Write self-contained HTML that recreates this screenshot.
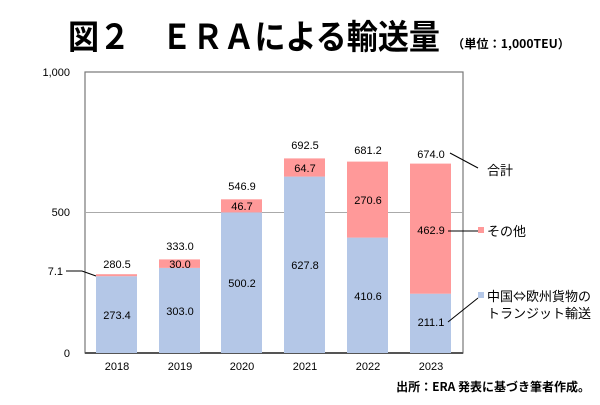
<!DOCTYPE html>
<html><head><meta charset="utf-8"><style>
body{margin:0;background:#fff;width:600px;height:400px;overflow:hidden}
</style></head><body>
<svg width="600" height="400" xmlns="http://www.w3.org/2000/svg" font-family="'Liberation Sans','Noto Sans CJK JP',sans-serif">
<text x="68" y="49" font-size="34" font-weight="bold" textLength="372" lengthAdjust="spacingAndGlyphs" font-family="'Noto Sans CJK JP',sans-serif">図２　ＥＲＡによる輸送量</text>
<text x="452" y="48" font-size="12" font-weight="bold" textLength="118" lengthAdjust="spacingAndGlyphs" font-family="'Noto Sans CJK JP',sans-serif">（単位：1,000TEU）</text>
<rect x="85" y="72" width="378" height="281" fill="none" stroke="#777" stroke-width="1.2"/>
<line x1="85" y1="212.5" x2="463" y2="212.5" stroke="#aaa" stroke-width="1"/>
<line x1="85" y1="353" x2="463" y2="353" stroke="#555" stroke-width="2"/>
<g font-size="11" fill="#000">
<text x="70" y="76" text-anchor="end">1,000</text>
<text x="70" y="216" text-anchor="end">500</text>
<text x="70" y="357" text-anchor="end">0</text>
<text x="63" y="275" text-anchor="end">7.1</text>
</g>
<polyline points="66,271 82,271 96,276" fill="none" stroke="#000" stroke-width="1"/>
<g>
<rect x="96" y="276.2" width="41" height="76.8" fill="#b4c7e7"/><rect x="96" y="274.2" width="41" height="2" fill="#ff9999"/>
<rect x="159" y="267.9" width="41" height="85.1" fill="#b4c7e7"/><rect x="159" y="259.4" width="41" height="8.5" fill="#ff9999"/>
<rect x="221" y="212.4" width="41" height="140.6" fill="#b4c7e7"/><rect x="221" y="199.3" width="41" height="13.1" fill="#ff9999"/>
<rect x="284" y="176.6" width="41" height="176.4" fill="#b4c7e7"/><rect x="284" y="158.4" width="41" height="18.2" fill="#ff9999"/>
<rect x="347" y="237.6" width="41" height="115.4" fill="#b4c7e7"/><rect x="347" y="161.6" width="41" height="76" fill="#ff9999"/>
<rect x="410" y="293.7" width="41" height="59.3" fill="#b4c7e7"/><rect x="410" y="163.6" width="41" height="130.1" fill="#ff9999"/>
</g>
<g font-size="11" text-anchor="middle" fill="#000">
<text x="117" y="268">280.5</text><text x="117" y="319">273.4</text><text x="117" y="370">2018</text>
<text x="180" y="250">333.0</text><text x="180" y="268">30.0</text><text x="180" y="315">303.0</text><text x="180" y="370">2019</text>
<text x="242" y="190">546.9</text><text x="242" y="210">46.7</text><text x="242" y="287">500.2</text><text x="242" y="370">2020</text>
<text x="305" y="149">692.5</text><text x="305" y="172">64.7</text><text x="305" y="269">627.8</text><text x="305" y="370">2021</text>
<text x="368" y="154">681.2</text><text x="368" y="204">270.6</text><text x="368" y="300">410.6</text><text x="368" y="370">2022</text>
<text x="431" y="158">674.0</text><text x="431" y="234">462.9</text><text x="431" y="326">211.1</text><text x="431" y="370">2023</text>
</g>
<polyline points="450,153 478,168" fill="none" stroke="#000"/>
<polyline points="448,231 478,231" fill="none" stroke="#000"/>
<polyline points="448,322 478,298" fill="none" stroke="#000"/>
<rect x="478" y="227" width="6" height="6" fill="#ff9999"/>
<rect x="478" y="292" width="6" height="6" fill="#b4c7e7"/>
<g font-size="13" font-family="'Noto Sans CJK JP',sans-serif" fill="#000">
<text x="487" y="175">合計</text>
<text x="487" y="236">その他</text>
<text x="487" y="301">中国⇔欧州貨物の</text>
<text x="487" y="318">トランジット輸送</text>
</g>
<text x="590" y="391" font-size="12" font-weight="bold" text-anchor="end" font-family="'Noto Sans CJK JP',sans-serif">出所：ERA 発表に基づき筆者作成。</text>
</svg>
</body></html>
